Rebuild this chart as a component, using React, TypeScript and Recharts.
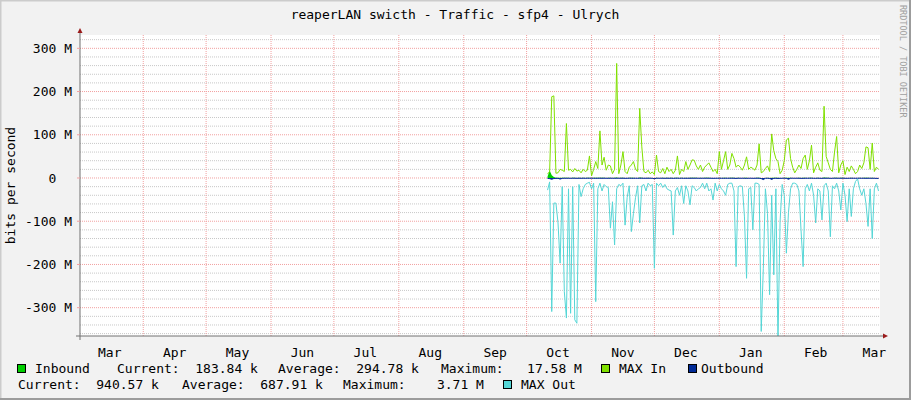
import React from 'react';
import { ComposedChart, Area, Line, XAxis, YAxis, CartesianGrid } from 'recharts';

// days are counted from 1 March of the first year; samples are daily
const FIRST_DAY = 224;

// MAX In (M bits/s), one value per day
const maxIn = [
  9, 15, 188, 190, 11, 12, 20, 18, 15, 126,
  18, 20, 14, 22, 16, 18, 12, 20, 15, 18,
  51, 5, 20, 38, 22, 109, 30, 48, 18, 30,
  28, 10, 20, 265, 10, 30, 61, 15, 10, 25,
  30, 38, 20, 15, 161, 72, 15, 12, 18, 10,
  14, 8, 53, 15, 12, 22, 10, 25, 15, 20,
  10, 18, 51, 8, 20, 15, 38, 20, 30, 42,
  41, 28, 20, 30, 15, 25, 30, 35, 25, 15,
  20, 10, 61, 20, 40, 61, 20, 30, 57, 45,
  25, 30, 25, 18, 30, 49, 20, 25, 22, 18,
  30, 79, 12, 15, 22, 28, 15, 102, 63, 45,
  38, 10, 18, 40, 88, 92, 45, 25, 12, 20,
  30, 22, 45, 53, 20, 40, 76, 12, 25, 35,
  18, 15, 166, 50, 35, 20, 15, 60, 96, 12,
  30, 40, 8, 25, 15, 28, 20, 10, 15, 30,
  22, 35, 72, 70, 20, 81, 15, 25, 20,
];

// MAX Out, drawn below zero
const maxOut = [
  -28, -9, -309, -58, -58, -104, -197, -20, -263, -324,
  -25, -313, -20, -328, -336, -15, -43, -25, -15, -12,
  -10, -25, -12, -286, -25, -12, -30, -15, -20, -22,
  -116, -55, -155, -25, -15, -18, -12, -109, -45, -18,
  -124, -82, -45, -18, -104, -18, -15, -30, -12, -18,
  -15, -209, -12, -18, -12, -22, -15, -25, -28, -30,
  -132, -30, -22, -40, -18, -59, -18, -30, -62, -18,
  -22, -30, -25, -22, -12, -25, -12, -30, -25, -51,
  -12, -30, -15, -25, -30, -40, -15, -12, -12, -30,
  -205, -20, -18, -20, -90, -232, -25, -22, -120, -12,
  -12, -15, -355, -209, -25, -82, -270, -40, -224, -25,
  -380, -100, -15, -40, -174, -80, -25, -12, -12, -15,
  -30, -120, -205, -25, -15, -30, -12, -40, -104, -25,
  -30, -97, -18, -12, -30, -136, -18, -25, -12, -30,
  -74, -12, -40, -101, -25, -89, -25, -8, -2, -25,
  -40, -25, -59, -112, -25, -140, -25, -12, -30,
];

const inbound = [
  3.2, 17.6, 6.1, 2.4, 0.6, 0.4, 0.5, 0.3, 0.3, 0.7,
  0.3, 0.2, 0.3, 0.4, 0.2, 0.3, 0.2, 0.3, 0.2, 0.3,
  0.5, 0.2, 0.3, 0.4, 0.3, 0.8, 0.3, 0.4, 0.2, 0.3,
  0.3, 0.2, 0.3, 1.1, 0.2, 0.3, 0.5, 0.2, 0.2, 0.3,
  0.3, 0.4, 0.2, 0.2, 0.9, 0.6, 0.2, 0.2, 0.3, 0.2,
  0.2, 0.2, 0.4, 0.2, 0.2, 0.3, 0.2, 0.3, 0.2, 0.3,
  0.2, 0.3, 0.4, 0.2, 0.3, 0.2, 0.3, 0.2, 0.3, 0.4,
  0.3, 0.3, 0.2, 0.3, 0.2, 0.3, 0.3, 0.3, 0.2, 0.2,
  0.2, 0.2, 0.4, 0.2, 0.3, 0.4, 0.2, 0.3, 0.4, 0.3,
  0.2, 0.3, 0.2, 0.2, 0.3, 0.3, 0.2, 0.2, 0.2, 0.2,
  0.3, 0.5, 0.2, 0.2, 0.2, 0.3, 0.2, 0.6, 0.4, 0.3,
  0.3, 0.2, 0.2, 0.3, 0.5, 0.6, 0.3, 0.2, 0.2, 0.2,
  0.3, 0.2, 0.3, 0.4, 0.2, 0.3, 0.5, 0.2, 0.2, 0.3,
  0.2, 0.2, 0.9, 0.3, 0.3, 0.2, 0.2, 0.4, 0.6, 0.2,
  0.3, 0.3, 0.2, 0.2, 0.2, 0.3, 0.2, 0.2, 0.2, 0.3,
  0.2, 0.3, 0.4, 0.4, 0.2, 0.5, 0.2, 0.2, 0.2,
];

const outbound = [
  -0.8, -1.5, -3.0, -1.2, -0.9, -0.7, -2.5, -0.8, -0.6, -0.7,
  -0.6, -0.7, -0.5, -0.6, -0.7, -0.5, -0.6, -0.5, -0.6, -0.5,
  -0.6, -0.5, -0.6, -0.7, -0.6, -0.5, -0.6, -0.5, -0.6, -0.7,
  -0.6, -0.5, -0.7, -0.6, -0.5, -0.6, -0.5, -0.7, -0.6, -0.5,
  -0.6, -0.7, -0.5, -0.6, -0.6, -0.5, -0.6, -0.5, -0.6, -0.5,
  -0.6, -1.8, -0.5, -0.6, -0.5, -0.6, -0.7, -0.5, -0.6, -0.5,
  -0.7, -0.6, -0.5, -0.6, -0.5, -0.6, -0.7, -0.5, -0.6, -0.5,
  -0.6, -0.5, -0.6, -0.7, -0.5, -0.6, -0.5, -0.6, -0.5, -0.7,
  -0.6, -0.5, -0.6, -0.5, -0.7, -0.6, -0.5, -0.6, -0.5, -0.6,
  -0.9, -0.5, -0.6, -0.5, -0.7, -0.8, -0.6, -0.5, -0.7, -0.6,
  -0.5, -0.6, -1.4, -3.7, -0.6, -0.7, -0.9, -3.2, -0.8, -0.6,
  -1.0, -0.7, -0.6, -0.5, -0.8, -2.9, -0.6, -0.5, -0.6, -0.5,
  -0.6, -0.7, -0.8, -0.6, -0.5, -0.6, -0.5, -0.6, -0.7, -0.5,
  -0.6, -0.7, -0.5, -0.6, -0.5, -0.8, -0.6, -0.5, -0.6, -0.5,
  -0.6, -0.5, -0.6, -0.7, -0.5, -0.6, -0.5, -0.6, -0.5, -0.6,
  -0.5, -0.6, -0.7, -0.6, -0.5, -0.7, -0.6, -0.9, -0.9,
];

const monthStartDays = [31, 61, 92, 122, 153, 184, 214, 245, 275, 306, 337, 365];
const monthLabelDays = [15, 46, 76, 107, 137, 168, 199, 229, 260, 290, 321, 352, 380];
const monthLabels = ['Mar', 'Apr', 'May', 'Jun', 'Jul', 'Aug', 'Sep', 'Oct', 'Nov', 'Dec', 'Jan', 'Feb', 'Mar'];

const yTicks = [-300, -200, -100, 0, 100, 200, 300];
const yMinor = [
  -360, -340, -320, -280, -260, -240, -220, -180, -160, -140, -120,
  -80, -60, -40, -20, 20, 40, 60, 80, 120, 140, 160, 180, 220, 240, 260, 280, 320,
];

const legendRow1 = ['Inbound', 'Current:  183.84 k', 'Average:  294.78 k', 'Maximum:   17.58 M', 'MAX In', 'Outbound'];
const legendRow2 = ['Current:  940.57 k', 'Average:  687.91 k', 'Maximum:    3.71 M', 'MAX Out'];

const X_DOMAIN = [0.8, 382.7];
const Y_DOMAIN = [-365.5, 330.8];

const C_IN = '#00CF00';
const C_MAXIN = '#80E000';
const C_OUT = '#002A97';
const C_MAXOUT = '#55D6D6';
const C_AXIS = '#707070';
const C_MGRID = '#F2A0A0';
const C_ARROW = '#9A1B1B';
const MONO = '"DejaVu Sans Mono", monospace';

const table = maxIn.map((v, i) => ({
  day: FIRST_DAY + i,
  inbound: inbound[i],
  maxIn: v,
  outbound: outbound[i],
  maxOut: maxOut[i],
}));

const yFmt = (v: number) => (v === 0 ? '0\u00a0\u00a0' : `${v} M`);

const YLabel = (props: any) => {
  const vb = props.viewBox;
  const ax = vb.x + vb.width;
  const cy = vb.y + vb.height / 2;
  const bottom = vb.y + vb.height;
  return (
    <g>
      <text x={15} y={cy} transform={`rotate(-90 15 ${cy})`} textAnchor="middle"
        fontFamily={MONO} fontSize={13} fill="#000">bits per second</text>
      <line x1={ax} y1={vb.y - 4} x2={ax} y2={vb.y} stroke={C_AXIS} />
      <line x1={ax} y1={bottom} x2={ax} y2={bottom + 4} stroke={C_AXIS} />
      <path d={`M${ax - 2.5},${vb.y - 2} L${ax},${vb.y - 7} L${ax + 2.5},${vb.y - 2} Z`} fill={C_ARROW} />
    </g>
  );
};

const XArrow = (props: any) => {
  const vb = props.viewBox;
  const ex = vb.x + vb.width;
  return (
    <g>
      <line x1={vb.x - 4} y1={vb.y} x2={vb.x} y2={vb.y} stroke={C_AXIS} />
      <line x1={ex} y1={vb.y} x2={ex + 4} y2={vb.y} stroke={C_AXIS} />
      <path d={`M${ex + 3},${vb.y - 2.5} L${ex + 8},${vb.y} L${ex + 3},${vb.y + 2.5} Z`} fill={C_ARROW} />
    </g>
  );
};

function Swatch({ x, y, color }: { x: number; y: number; color: string }) {
  return <rect x={x + 0.5} y={y + 0.5} width={8} height={8} fill={color} stroke="#000" strokeWidth={1} />;
}

export default function App() {
  const txt = { fontFamily: MONO, fontSize: 13, fill: '#000', style: { whiteSpace: 'pre' as const } };
  return (
    <div style={{ position: 'absolute', left: 0, top: 0, width: 911, height: 400, background: '#F2F2F2', overflow: 'hidden' }}>
      <ComposedChart width={911} height={400} data={table} margin={{ top: 35, right: 31, bottom: 0, left: 0 }}>
        <CartesianGrid fill="#FFFFFF" vertical={false} horizontalValues={yMinor} stroke="#C8C8C8" strokeDasharray="1 1" />
        <CartesianGrid horizontalValues={yTicks} verticalValues={monthStartDays} stroke={C_MGRID} strokeDasharray="1 1" />
        {/* month-start tick marks under the axis */}
        <XAxis xAxisId="months" type="number" dataKey="day" domain={X_DOMAIN} allowDataOverflow ticks={monthStartDays}
          interval={0} height={0} axisLine={false} tick={false} tickLine={{ stroke: C_MGRID }} tickSize={4} />
        <XAxis type="number" dataKey="day" domain={X_DOMAIN} allowDataOverflow ticks={monthLabelDays} interval={0}
          tickFormatter={(d: number) => monthLabels[monthLabelDays.indexOf(d)]} tickLine={false} tickMargin={6} height={64}
          axisLine={{ stroke: C_AXIS }} tick={{ fontFamily: MONO, fontSize: 13, fill: '#000' }} label={XArrow} />
        <YAxis type="number" domain={Y_DOMAIN} allowDataOverflow ticks={yTicks} interval={0} width={80}
          tickFormatter={yFmt} tickLine={{ stroke: C_MGRID }} tickSize={3} tickMargin={5}
          axisLine={{ stroke: C_AXIS }} tick={{ fontFamily: MONO, fontSize: 13, fill: '#000' }} label={YLabel} />
        <Area dataKey="inbound" type="linear" baseValue={0} fill={C_IN} fillOpacity={1} stroke="none" isAnimationActive={false} />
        <Line dataKey="maxIn" type="linear" stroke={C_MAXIN} strokeWidth={1} dot={false} isAnimationActive={false} />
        <Area dataKey="outbound" type="linear" baseValue={0} fill={C_OUT} fillOpacity={1} stroke={C_OUT} strokeWidth={1} isAnimationActive={false} />
        <Line dataKey="maxOut" type="linear" stroke={C_MAXOUT} strokeWidth={1} dot={false} isAnimationActive={false} />
      </ComposedChart>

      <svg width={911} height={400} style={{ position: 'absolute', left: 0, top: 0, pointerEvents: 'none' }}>
        <rect x={0} y={0} width={911} height={1.5} fill="#CCCCCC" />
        <rect x={0} y={0} width={1.5} height={400} fill="#CCCCCC" />
        <rect x={0} y={398} width={911} height={2} fill="#9C9C9C" />
        <rect x={909} y={0} width={2} height={400} fill="#9C9C9C" />

        <text x={455} y={19} textAnchor="middle" {...txt}>reaperLAN swicth - Traffic - sfp4 - Ulrych</text>
        <text x={900} y={5} transform="rotate(90 900 5)" fontFamily={MONO} fontSize={8.5} fill="#A0A0A0">RRDTOOL / TOBI OETIKER</text>

        <Swatch x={17} y={364} color={C_IN} />
        <text x={35} y={373} {...txt}>{legendRow1[0]}</text>
        <text x={117} y={373} {...txt}>{legendRow1[1]}</text>
        <text x={278} y={373} {...txt}>{legendRow1[2]}</text>
        <text x={441} y={373} {...txt}>{legendRow1[3]}</text>
        <Swatch x={601} y={364} color={C_MAXIN} />
        <text x={619} y={373} {...txt}>{legendRow1[4]}</text>
        <Swatch x={688} y={364} color={C_OUT} />
        <text x={701} y={373} {...txt}>{legendRow1[5]}</text>

        <text x={18} y={389} {...txt}>{legendRow2[0]}</text>
        <text x={182} y={389} {...txt}>{legendRow2[1]}</text>
        <text x={343} y={389} {...txt}>{legendRow2[2]}</text>
        <Swatch x={503} y={380} color={C_MAXOUT} />
        <text x={521} y={389} {...txt}>{legendRow2[3]}</text>
      </svg>
    </div>
  );
}
